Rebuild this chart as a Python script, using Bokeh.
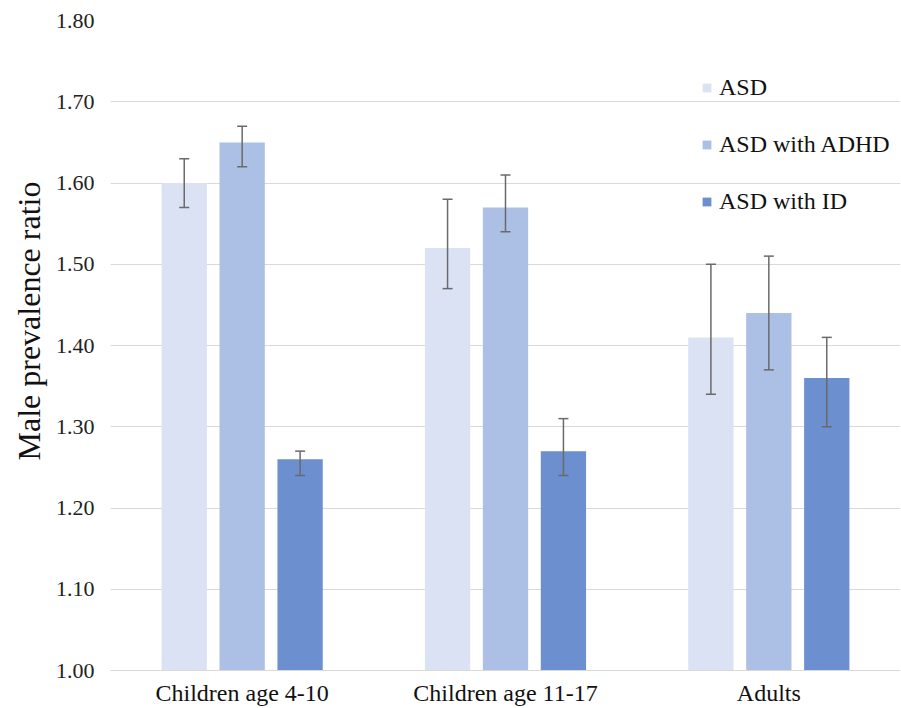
from bokeh.plotting import figure
from bokeh.models import ColumnDataSource, FactorRange, Whisker, Legend, LegendItem, NumeralTickFormatter, Title
from bokeh.transform import dodge
from bokeh.embed import file_html
from bokeh.resources import INLINE

categories = ["Children age 4-10", "Children age 11-17", "Adults"]
series = ["ASD", "ASD with ADHD", "ASD with ID"]
asd = [1.60, 1.52, 1.41]
asd_lo = [1.57, 1.47, 1.34]
asd_hi = [1.63, 1.58, 1.50]
adhd = [1.65, 1.57, 1.44]
adhd_lo = [1.62, 1.54, 1.37]
adhd_hi = [1.67, 1.61, 1.51]
idd = [1.26, 1.27, 1.36]
idd_lo = [1.24, 1.24, 1.30]
idd_hi = [1.27, 1.31, 1.41]
y_ticks = [1.0, 1.1, 1.2, 1.3, 1.4, 1.5, 1.6, 1.7, 1.8]
y_title = "Male prevalence ratio"

colors = ["#DAE2F3", "#ACBFE5", "#6B8FCF"]
offsets = [-0.22, 0.0, 0.22]
FONT = "Liberation Serif"

src = ColumnDataSource(dict(cat=categories, asd=asd, asd_lo=asd_lo, asd_hi=asd_hi,
                            adhd=adhd, adhd_lo=adhd_lo, adhd_hi=adhd_hi,
                            idd=idd, idd_lo=idd_lo, idd_hi=idd_hi))

p = figure(x_range=FactorRange(*categories, range_padding=0), y_range=(1.0, 1.8),
           width=900, height=708, output_backend="svg", toolbar_location=None,
           min_border_left=110, min_border_right=0, min_border_top=20, min_border_bottom=38)
p.outline_line_color = None

items = []
for key, name, col, off in zip(["asd", "adhd", "idd"], series, colors, offsets):
    r = p.vbar(x=dodge("cat", off, range=p.x_range), top=key, bottom=1.0, width=0.172,
               source=src, fill_color=col, line_color=None)
    items.append(LegendItem(label=name, renderers=[r]))
    w = Whisker(base=dodge("cat", off, range=p.x_range), lower=key + "_lo", upper=key + "_hi",
                source=src, line_color="#6A6A6A", line_width=1.5, level="overlay")
    w.upper_head.size = 10
    w.lower_head.size = 10
    w.upper_head.line_color = "#6A6A6A"
    w.lower_head.line_color = "#6A6A6A"
    w.upper_head.line_width = 1.5
    w.lower_head.line_width = 1.5
    p.add_layout(w)

legend = Legend(items=items, location=(591, 455), background_fill_alpha=0, border_line_color=None,
                label_text_font=FONT, label_text_font_size="24px", label_text_color="#111111",
                glyph_width=11, glyph_height=11, label_height=20, spacing=30, padding=5,
                label_standoff=7)
p.add_layout(legend, "center")

ytitle = Title(text=y_title, align="left", offset=210, text_font=FONT, text_font_size="32px",
               text_font_style="normal", text_color="#111111", standoff=12)
p.add_layout(ytitle, "left")

p.yaxis.ticker = y_ticks
p.yaxis.formatter = NumeralTickFormatter(format="0.00")
p.yaxis.axis_line_color = None
p.yaxis.major_tick_line_color = None
p.yaxis.minor_tick_line_color = None
p.yaxis.major_label_text_font = FONT
p.yaxis.major_label_text_font_size = "22px"
p.yaxis.major_label_text_color = "#222222"
p.yaxis.major_label_standoff = 10

p.xaxis.axis_line_color = "#D9D9D9"
p.xaxis.major_tick_line_color = None
p.xaxis.minor_tick_line_color = None
p.xaxis.major_label_text_font = FONT
p.xaxis.major_label_text_font_size = "24px"
p.xaxis.major_label_text_color = "#111111"
p.xaxis.major_label_standoff = 3
p.xgrid.grid_line_color = None
p.ygrid.grid_line_color = "#D9D9D9"
p.ygrid.ticker = y_ticks

open("out.html", "w").write(file_html(p, INLINE))
